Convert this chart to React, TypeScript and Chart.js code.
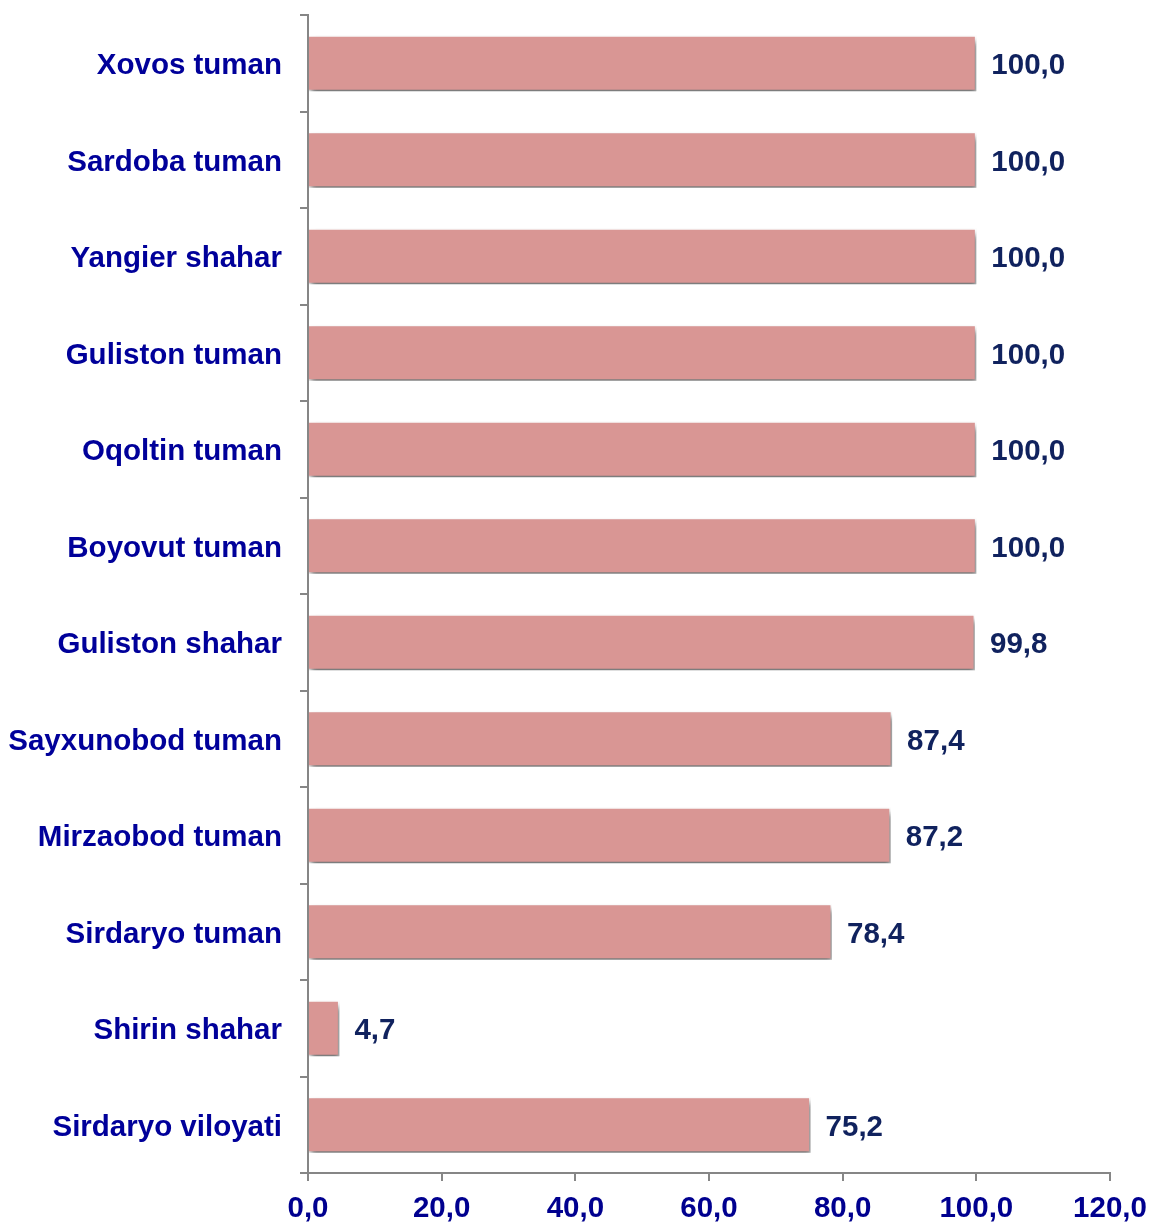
import React, { useEffect, useRef } from "react";
import { Chart, registerables } from "chart.js";

Chart.register(...registerables);

const categories = [
  "Xovos tuman",
  "Sardoba tuman",
  "Yangier shahar",
  "Guliston tuman",
  "Oqoltin tuman",
  "Boyovut tuman",
  "Guliston shahar",
  "Sayxunobod tuman",
  "Mirzaobod tuman",
  "Sirdaryo tuman",
  "Shirin shahar",
  "Sirdaryo viloyati",
];
const values = [100.0, 100.0, 100.0, 100.0, 100.0, 100.0, 99.8, 87.4, 87.2, 78.4, 4.7, 75.2];
const xMin = 0;
const xMax = 120;
const xStep = 20;

const fmt = (v: number) => v.toFixed(1).replace(".", ",");

const FONT = "'Liberation Sans', Arial, sans-serif";

const shadowPlugin = {
  id: "barShadow",
  beforeDatasetDraw(chart: any) {
    const ctx = chart.ctx;
    ctx.save();
    ctx.shadowColor = "rgba(0,0,0,0.55)";
    ctx.shadowBlur = 6;
    ctx.shadowOffsetX = 2;
    ctx.shadowOffsetY = 5;
  },
  afterDatasetDraw(chart: any) {
    chart.ctx.restore();
  },
};

const valueLabelPlugin = {
  id: "valueLabels",
  afterDatasetsDraw(chart: any) {
    const ctx = chart.ctx;
    const meta = chart.getDatasetMeta(0);
    ctx.save();
    ctx.font = `bold 29.5px ${FONT}`;
    ctx.fillStyle = "#10225E";
    ctx.textAlign = "left";
    ctx.textBaseline = "middle";
    meta.data.forEach((bar: any, i: number) => {
      ctx.fillText(fmt(values[i]), bar.x + 15, bar.y + 3);
    });
    ctx.restore();
  },
};

export default function App() {
  const ref = useRef<HTMLCanvasElement | null>(null);

  useEffect(() => {
    document.body.style.margin = "0";
    if (!ref.current) return;
    const chart = new Chart(ref.current, {
      type: "bar",
      data: {
        labels: categories,
        datasets: [
          {
            data: values,
            backgroundColor: "#D99694",
            borderColor: "#FFFFFF",
            borderWidth: 1.5,
            categoryPercentage: 1,
            barPercentage: 0.58,
          },
        ],
      },
      options: {
        indexAxis: "y",
        animation: false,
        responsive: false,
        maintainAspectRatio: false,
        layout: { padding: { top: 15, right: 0, left: 0, bottom: 0 } },
        plugins: {
          legend: { display: false },
          tooltip: { enabled: false },
        },
        scales: {
          x: {
            min: xMin,
            max: xMax,
            afterFit: (s: any) => {
              s.paddingLeft = 0;
              s.paddingRight = 39;
              s.height = 49;
            },
            ticks: {
              stepSize: xStep,
              color: "#00008F",
              font: { family: FONT, size: 29.5, weight: "bold", lineHeight: 1 },
              padding: 13,
              callback: (v: any) => fmt(Number(v)),
            },
            grid: {
              drawOnChartArea: false,
              tickLength: 8,
              color: "#868686",
              lineWidth: 2,
            },
            border: { color: "#868686", width: 2 },
          },
          y: {
            afterFit: (s: any) => {
              s.width = 308;
              s.paddingTop = 0;
              s.paddingBottom = 0;
            },
            ticks: {
              color: "#00009A",
              font: { family: FONT, size: 29.5, weight: "bold" },
              padding: 18,
              labelOffset: 3,
            },
            grid: {
              drawOnChartArea: false,
              offset: true,
              tickLength: 8,
              color: "#868686",
              lineWidth: 2,
            },
            border: { color: "#868686", width: 2 },
          },
        },
      },
      plugins: [shadowPlugin, valueLabelPlugin],
    });
    return () => chart.destroy();
  }, []);

  return <canvas ref={ref} width={1149} height={1222} style={{ display: "block" }} />;
}
